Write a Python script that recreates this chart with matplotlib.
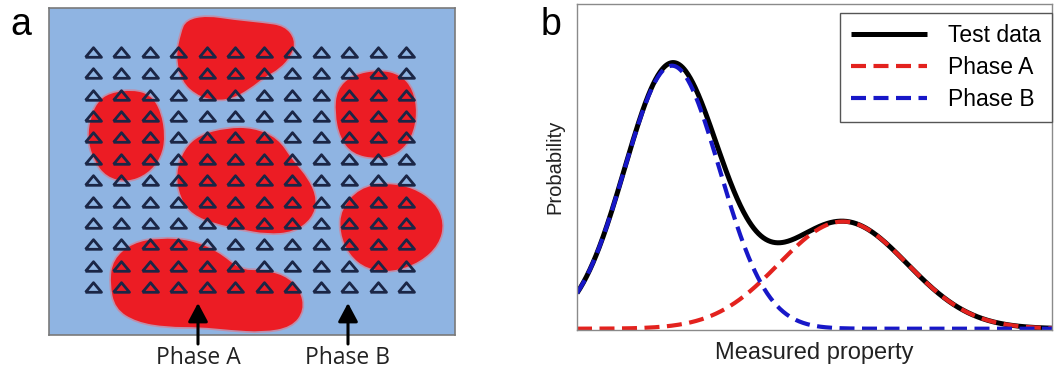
"""
Two-phase microstructure sketch (a) and measured-property distributions (b)
"""

import numpy as np
import matplotlib.pyplot as plt
from matplotlib.path import Path
from matplotlib.patches import PathPatch

# =============================================================================
# DATA
# =============================================================================
# panel a: red phase-A islands, outline points in image pixels
blob_top = [(182, 33), (187, 21), (207, 17), (233, 21), (263, 24), (284, 27), (294, 40),
            (291, 54), (279, 68), (264, 76), (249, 88), (231, 98), (213, 99), (197, 94),
            (183, 81), (177, 57)]
blob_left = [(110, 94), (133, 91), (150, 96), (160, 112), (164, 137), (160, 157), (147, 173),
             (127, 181), (107, 176), (95, 160), (89, 140), (91, 120), (98, 103)]
blob_center = [(200, 136), (227, 129), (253, 129), (277, 139), (291, 160), (308, 180),
               (316, 200), (311, 218), (293, 231), (267, 233), (240, 228), (217, 223),
               (193, 214), (181, 197), (177, 173), (185, 150)]
blob_right_up = [(353, 76), (380, 71), (400, 76), (412, 90), (416, 113), (411, 137),
                 (397, 153), (377, 158), (353, 153), (341, 137), (336, 113), (338, 90)]
blob_right_low = [(360, 189), (387, 184), (413, 189), (434, 203), (443, 223), (438, 244),
                  (420, 261), (393, 271), (367, 268), (350, 254), (341, 233), (342, 210)]
blob_bottom = [(133, 244), (160, 239), (190, 241), (217, 252), (240, 271), (260, 271),
               (284, 276), (299, 290), (303, 310), (291, 326), (263, 331), (230, 329),
               (200, 326), (167, 326), (137, 321), (116, 308), (111, 283), (114, 260)]
blobs = [blob_top, blob_left, blob_center, blob_right_up, blob_right_low, blob_bottom]

n_cols, n_rows = 12, 12
grid_x = (93, 406)
grid_y = (52, 287)

phase_labels = ['Phase A', 'Phase B']
phase_label_x = [198, 348]

# panel b: gaussian components (axes units)
comp_names = ['Phase A', 'Phase B']
comp_center = [0.56, 0.20]
comp_width = [0.135, 0.10]
comp_height = [0.33, 0.81]

# =============================================================================
# STYLE
# =============================================================================
W, H = 1055, 370
BG_BLUE = '#8fb4e2'
RED = '#ec1c24'
TRI = '#1b2646'


def fig_rect(x0, y0, x1, y1):
    return [x0 / W, 1 - y1 / H, (x1 - x0) / W, (y1 - y0) / H]


def smooth_path(pts):
    # closed quadratic b-spline through midpoints
    pts = np.asarray(pts, float)
    mids = (pts + np.roll(pts, -1, axis=0)) / 2
    verts = [mids[-1]]
    codes = [Path.MOVETO]
    for p, m in zip(pts, mids):
        verts += [p, m]
        codes += [Path.CURVE3, Path.CURVE3]
    return Path(verts, codes)


fig = plt.figure(figsize=(W / 100, H / 100), dpi=100)

# =============================================================================
# PANEL A
# =============================================================================
ax_a = fig.add_axes(fig_rect(49, 8, 455, 335))
ax_a.set_xlim(49, 455)
ax_a.set_ylim(335, 8)
ax_a.set_facecolor(BG_BLUE)
ax_a.set_xticks([])
ax_a.set_yticks([])
for s in ax_a.spines.values():
    s.set_color('#7a7a7a')
    s.set_linewidth(1.2)

for b in blobs:
    pth = smooth_path(b)
    ax_a.add_patch(PathPatch(pth, facecolor='none', edgecolor='#f06a74', lw=4, alpha=0.5))
    ax_a.add_patch(PathPatch(pth, facecolor=RED, edgecolor=RED, lw=1.5))

gx, gy = np.meshgrid(np.linspace(*grid_x, n_cols), np.linspace(*grid_y, n_rows))
tri = [(-1, -0.6), (1, -0.6), (0, 0.6), (-1, -0.6)]
ax_a.plot(gx.ravel(), gy.ravel(), ls='none', marker=tri, ms=11.5,
          mfc='none', mec=TRI, mew=2.0)

for lab, x in zip(phase_labels, phase_label_x):
    ax_a.annotate('', xy=(x, 303), xytext=(x, 344), annotation_clip=False,
                  arrowprops=dict(arrowstyle='-|>,head_length=0.75,head_width=0.4',
                                  lw=2.2, color='black', mutation_scale=15,
                                  shrinkA=0, shrinkB=0))
    ax_a.text(x, 358, lab, ha='center', va='center', fontsize=16.5,
              family='Open Sans', color='#222222')

fig.text(21 / W, 1 - 35 / H, 'a', fontsize=27, family='Liberation Sans',
         ha='center', va='baseline')

# =============================================================================
# PANEL B
# =============================================================================
ax_b = fig.add_axes(fig_rect(577, 4, 1052, 330))
x = np.linspace(0, 1, 600)
comps = [h * np.exp(-(x - c) ** 2 / (2 * w ** 2))
         for c, w, h in zip(comp_center, comp_width, comp_height)]
total = comps[0] + comps[1]

ax_b.plot(x, total, color='black', lw=3.6, label='Test data', solid_capstyle='butt')
ax_b.plot(x, comps[0], color='#e3221e', lw=3.0, ls=(0, (3.6, 1.8)), label=comp_names[0])
ax_b.plot(x, comps[1], color='#1717c8', lw=3.0, ls=(0, (3.6, 1.8)), label=comp_names[1])

ax_b.set_xlim(0, 1)
ax_b.set_ylim(-0.004, 1)
ax_b.set_xticks([])
ax_b.set_yticks([])
for s in ax_b.spines.values():
    s.set_color('#8a8a8a')
    s.set_linewidth(1.0)

ax_b.set_xlabel('Measured property', fontsize=17, family='Liberation Sans',
                labelpad=9, color='#222222')
ax_b.set_ylabel('Probability', fontsize=14.5, family='Liberation Sans',
                labelpad=9, color='#222222')

leg = ax_b.legend(loc='upper right', bbox_to_anchor=(1.0, 1 - 9 / 326),
                  borderaxespad=0, fancybox=False, framealpha=1,
                  edgecolor='#555555', handlelength=3.3, handletextpad=0.9,
                  labelspacing=0.38, borderpad=0.5,
                  prop={'family': 'Liberation Sans', 'size': 16.5})
leg.get_frame().set_linewidth(1.0)

fig.text(551 / W, 1 - 35 / H, 'b', fontsize=27, family='Liberation Sans',
         ha='center', va='baseline')

fig.savefig('out.png', dpi=100)
